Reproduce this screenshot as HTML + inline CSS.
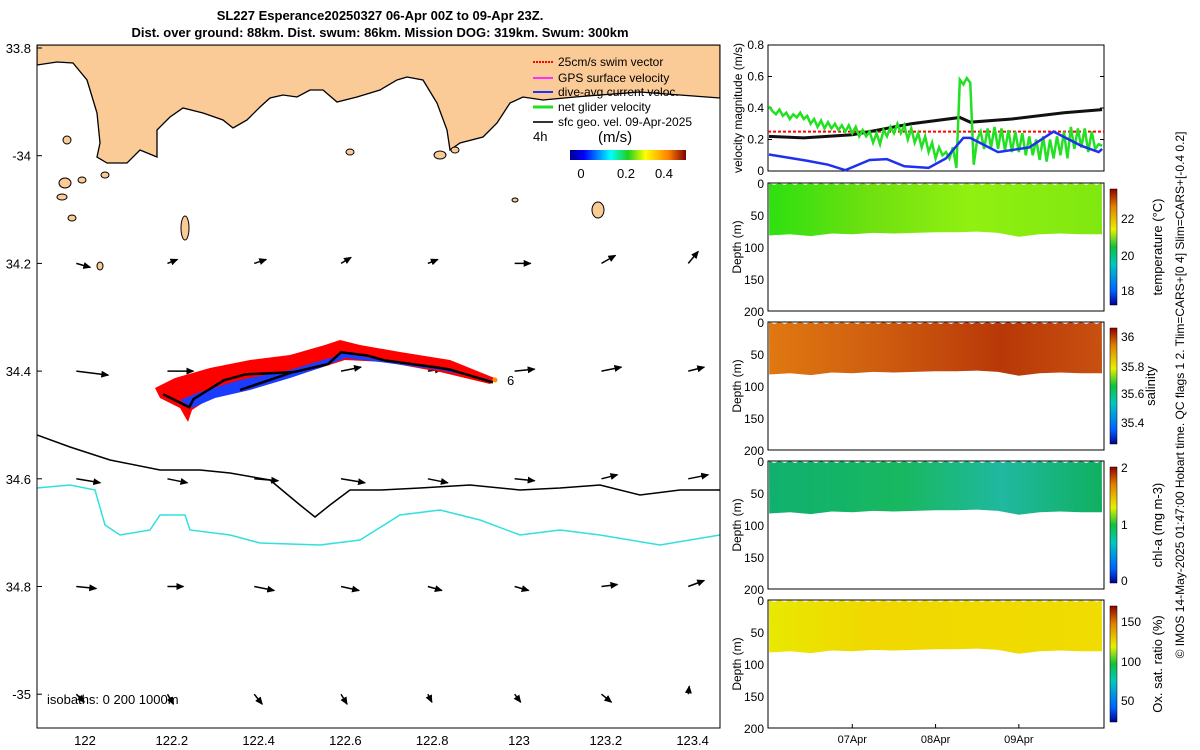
<!DOCTYPE html>
<html><head><meta charset="utf-8"><style>
body{margin:0;background:#fff}
svg{display:block;font-family:"Liberation Sans",sans-serif}
</style></head><body>
<svg id="fig" width="1200" height="750" viewBox="0 0 1200 750">
<defs>
<linearGradient id="jet" x1="0" x2="1" y1="0" y2="0">
<stop offset="0" stop-color="#00008f"/><stop offset="0.12" stop-color="#0000ff"/><stop offset="0.35" stop-color="#00ffff"/><stop offset="0.5" stop-color="#20d020"/><stop offset="0.65" stop-color="#ffff00"/><stop offset="0.85" stop-color="#ff8000"/><stop offset="1" stop-color="#800000"/></linearGradient>
<linearGradient id="jetv" x1="0" x2="0" y1="1" y2="0">
<stop offset="0" stop-color="#00008f"/><stop offset="0.12" stop-color="#0060ff"/><stop offset="0.35" stop-color="#00c8c0"/><stop offset="0.5" stop-color="#10c040"/><stop offset="0.65" stop-color="#e8f000"/><stop offset="0.85" stop-color="#e08000"/><stop offset="1" stop-color="#900000"/></linearGradient>
<linearGradient id="gT" x1="0" x2="1"><stop offset="0" stop-color="#2ee010"/><stop offset="0.3" stop-color="#6fe010"/><stop offset="0.6" stop-color="#90f010"/><stop offset="1" stop-color="#80e810"/></linearGradient>
<linearGradient id="gS" x1="0" x2="1"><stop offset="0" stop-color="#e07810"/><stop offset="0.3" stop-color="#d06010"/><stop offset="0.7" stop-color="#b83808"/><stop offset="1" stop-color="#c85010"/></linearGradient>
<linearGradient id="gC" x1="0" x2="1"><stop offset="0" stop-color="#10b070"/><stop offset="0.4" stop-color="#18b860"/><stop offset="0.7" stop-color="#20b8a0"/><stop offset="1" stop-color="#10b060"/></linearGradient>
<linearGradient id="gO" x1="0" x2="1"><stop offset="0" stop-color="#e8e800"/><stop offset="0.3" stop-color="#f0d800"/><stop offset="1" stop-color="#f0dc00"/></linearGradient>
<marker id="ah" markerUnits="userSpaceOnUse" markerWidth="8" markerHeight="7" refX="7" refY="3.5" orient="auto"><path d="M0,0 L8,3.5 L0,7 z" fill="#000"/></marker>
</defs>

<text x="380" y="20" font-size="13" font-weight="bold" text-anchor="middle">SL227 Esperance20250327 06-Apr 00Z to 09-Apr 23Z.</text>
<text x="380" y="37" font-size="13" font-weight="bold" text-anchor="middle">Dist. over ground: 88km. Dist. swum: 86km. Mission DOG: 319km. Swum: 300km</text>

<g id="map">
<clipPath id="mc"><rect x="37" y="45" width="683" height="683"/></clipPath>
<g clip-path="url(#mc)">
<path fill="#fbcb97" stroke="#000" stroke-width="1.3" d="M37,45 L37,65 L57,62 L73,63 L87,80 L97,113 L100,143 L97,157 L107,163 L127,163 L140,150 L157,157 L157,130 L170,117 L183,108 L203,113 L223,120 L233,128 L247,120 L260,107 L270,98 L283,95 L297,97 L310,90 L323,90 L337,102 L357,97 L380,90 L397,80 L407,77 L423,80 L437,103 L447,130 L450,150 L460,143 L483,137 L497,123 L510,103 L523,97 L543,100 L575,97 L600,95 L640,92 L680,95 L720,98 L720,45 Z"/>
<g fill="#fbcb97" stroke="#000" stroke-width="1">
<ellipse cx="185" cy="228" rx="4" ry="12"/><ellipse cx="65" cy="183" rx="6" ry="5"/><ellipse cx="62" cy="197" rx="5" ry="3"/><ellipse cx="67" cy="140" rx="4" ry="4"/><ellipse cx="350" cy="152" rx="4" ry="3"/><ellipse cx="440" cy="155" rx="6" ry="4"/><ellipse cx="455" cy="150" rx="4" ry="3"/><ellipse cx="598" cy="210" rx="6" ry="8"/><ellipse cx="515" cy="200" rx="3" ry="2"/><ellipse cx="100" cy="266" rx="3" ry="4"/><ellipse cx="105" cy="175" rx="4" ry="3"/><ellipse cx="82" cy="180" rx="4" ry="3"/><ellipse cx="72" cy="218" rx="4" ry="3"/>
</g>
<path fill="none" stroke="#000" stroke-width="1.5" d="M37,435 L70,447 L110,460 L160,470 L200,470 L230,473 L270,480 L300,505 L315,517 L330,505 L350,490 L380,490 L420,488 L470,485 L520,490 L560,488 L600,485 L640,495 L680,490 L720,490"/>
<path fill="none" stroke="#30e0e0" stroke-width="1.5" d="M37,488 L70,485 L95,490 L105,525 L120,535 L150,530 L160,515 L185,515 L190,530 L230,535 L260,543 L320,545 L360,540 L400,515 L440,510 L480,520 L520,535 L560,530 L600,535 L660,545 L720,535"/>
<g id="quiver"></g>
<path fill="#ff0000" d="M155,388 L175,378 L210,368 L250,360 L290,355 L325,345 L340,340 L360,345 L400,352 L450,360 L497,379 L490,384 L440,372 L385,362 L345,360 L320,368 L290,376 L250,388 L215,395 L192,410 L188,422 L180,408 L160,398 Z"/>
<path fill="#1a3cff" d="M180,400 L200,392 L240,380 L290,370 L330,358 L345,353 L380,360 L440,367 L495,381 L440,370 L380,362 L345,358 L320,368 L290,378 L250,390 L215,398 L192,408 Z"/>
<polyline id="track" fill="none" stroke="#000" stroke-width="2.5" points=""/>
<polyline fill="none" stroke="#000" stroke-width="2.5" points="240,390 293,372"/>
<circle cx="495" cy="380" r="2.5" fill="#ff9000"/>
<text x="507" y="385" font-size="13">6</text>
<text x="47" y="704" font-size="13">isobaths: 0   200  1000m</text>
</g>
<rect x="37" y="45" width="683" height="683" fill="none" stroke="#000"/>
<g id="mapticks" font-size="13"></g>
<g font-size="12">
<line x1="533" y1="62" x2="553" y2="62" stroke="#ff0000" stroke-width="2" stroke-dasharray="2,1"/><text x="558" y="66">25cm/s swim vector</text>
<line x1="533" y1="78" x2="553" y2="78" stroke="#ff30ff" stroke-width="2"/><text x="558" y="82">GPS surface velocity</text>
<line x1="533" y1="92" x2="553" y2="92" stroke="#2030ff" stroke-width="2"/><text x="558" y="96">dive-avg current veloc.</text>
<line x1="533" y1="107" x2="553" y2="107" stroke="#20e020" stroke-width="3"/><text x="558" y="111">net glider velocity</text>
<line x1="533" y1="122" x2="553" y2="122" stroke="#333" stroke-width="2"/><text x="558" y="126">sfc geo. vel. 09-Apr-2025</text>
<text x="533" y="141" font-size="13">4h</text>
<text x="598" y="142" font-size="15">(m/s)</text>
<rect x="570" y="150" width="116" height="10" fill="url(#jet)"/>
<text x="581" y="178" font-size="13" text-anchor="middle">0</text><text x="626" y="178" font-size="13" text-anchor="middle">0.2</text><text x="664" y="178" font-size="13" text-anchor="middle">0.4</text>
</g>
</g>

<g id="vel">
<rect x="768" y="45" width="336" height="126" fill="#fff" stroke="#000"/>
<g id="velticks" font-size="12"></g>
<text transform="translate(742,108) rotate(-90)" font-size="12" text-anchor="middle">velocity magnitude (m/s)</text>
<line id="swimline" stroke="#ff0000" stroke-width="2" stroke-dasharray="3,2"/>
<polyline id="blackline" fill="none" stroke="#111" stroke-width="3"/>
<polyline id="greenline" fill="none" stroke="#22e022" stroke-width="2.5"/>
<polyline id="blueline" fill="none" stroke="#2030f0" stroke-width="2.5"/>
</g>
<g id="profiles"></g>
<text transform="translate(1184,395) rotate(-90)" font-size="12" text-anchor="middle">© IMOS 14-May-2025 01:47:00 Hobart time. QC flags 1  2. Tlim=CARS+[0 4] Slim=CARS+[-0.4 0.2]</text>
</svg>
<script>
const NS='http://www.w3.org/2000/svg';
const svg=document.getElementById('fig');
function mk(tag,attrs,parent){const e=document.createElementNS(NS,tag);for(const k in attrs)e.setAttribute(k,attrs[k]);(parent||svg).appendChild(e);return e;}

// map data
const lonTicks=[122,122.2,122.4,122.6,122.8,123,123.2,123.4];
const latTicks=[33.8,34,34.2,34.4,34.6,34.8,35];
const latLabels=['33.8','-34','34.2','34.4','34.6','34.8','-35'];
const trackLon=[122.18,122.24,122.25,122.32,122.37,122.48,122.56,122.59,122.65,122.69,122.81,122.84,122.94];
const trackLat=[34.443,34.467,34.452,34.417,34.406,34.402,34.387,34.365,34.371,34.380,34.393,34.397,34.421];
const quivLon=[121.98,122.19,122.39,122.59,122.79,122.99,123.19,123.39];
const quivLat=[34.2,34.4,34.6,34.8,35.0];
const quivU=[[0.07,0.05,0.06,0.05,0.05,0.08,0.07,0.05],[0.16,0.13,0.09,0.1,0.07,0.1,0.1,0.08],[0.12,0.1,0.12,0.12,0.1,0.1,0.08,0.1],[0.1,0.08,0.1,0.09,0.07,0.07,0.08,0.08],[0.04,0.03,0.04,0.03,0.02,0.03,0.05,0.005]];
const quivV=[[-0.02,0.02,0.02,0.03,0.02,0.0,0.04,0.06],[-0.02,0.0,0.02,0.02,0.01,0.01,0.02,0.02],[-0.02,-0.02,-0.01,-0.02,-0.02,-0.01,0.02,0.02],[-0.01,0.0,-0.02,-0.02,-0.02,-0.02,0.01,0.03],[-0.04,-0.05,-0.05,-0.05,-0.04,-0.04,-0.04,0.04]];
const lx=v=>85+(v-122)*434, ly=v=>48+(v-33.8)*538.5;

const mt=document.getElementById('mapticks');
lonTicks.forEach(v=>{const t=mk('text',{x:lx(v),y:745,'text-anchor':'middle'},mt);t.textContent=String(v);

});
latTicks.forEach((v,i)=>{const t=mk('text',{x:31,y:ly(v)+5,'text-anchor':'end'},mt);t.textContent=latLabels[i];


mk('line',{x1:37,x2:42,y1:ly(v),y2:ly(v),stroke:'#000'},mt);});
document.getElementById('track').setAttribute('points',trackLon.map((v,i)=>lx(v)+','+ly(trackLat[i])).join(' '));
const q=document.getElementById('quiver');
quivLat.forEach((la,i)=>quivLon.forEach((lo,j)=>{const x=lx(lo),y=ly(la);const l=mk('line',{x1:x,y1:y,x2:x+quivU[i][j]*200,y2:y-quivV[i][j]*200,stroke:'#000','stroke-width':1.5,'marker-end':'url(#ah)'},q);

}));

// velocity chart
const hours=[];for(let h=0;h<=96;h++)hours.push(h);
const greenVals=[0.41,0.38,0.36,0.39,0.35,0.37,0.33,0.36,0.34,0.37,0.33,0.35,0.30,0.33,0.28,0.32,0.27,0.31,0.27,0.30,0.26,0.29,0.25,0.29,0.24,0.28,0.22,0.26,0.22,0.25,0.18,0.24,0.17,0.26,0.22,0.28,0.24,0.30,0.24,0.29,0.20,0.27,0.18,0.24,0.15,0.22,0.12,0.18,0.08,0.15,0.10,0.12,0.08,0.15,0.02,0.58,0.55,0.59,0.56,0.04,0.20,0.25,0.14,0.27,0.15,0.28,0.14,0.27,0.13,0.26,0.12,0.25,0.12,0.24,0.10,0.22,0.10,0.20,0.07,0.22,0.06,0.20,0.08,0.22,0.10,0.25,0.08,0.28,0.14,0.27,0.15,0.27,0.12,0.25,0.14,0.17,0.16];
const blueHours=[0,11,17,22,29,34,39,46,51,56,58,66,75,82,90,95,96];
const blueVals=[0.105,0.065,0.04,0.005,0.07,0.075,0.03,0.02,0.08,0.21,0.21,0.12,0.15,0.25,0.16,0.12,0.14];
const blackHours=[0,10,24,29,41,55,58,70,85,96];
const blackVals=[0.22,0.21,0.23,0.25,0.30,0.34,0.31,0.33,0.37,0.39];
const swimSpeed=0.25;
const velTicks=[0,0.2,0.4,0.6,0.8];
const dayTicks=[24,48,72];const dayLabels=['07Apr','08Apr','09Apr'];
const vx=h=>769+h*3.47, vy=v=>171-v*157.5;
const vt=document.getElementById('velticks');
velTicks.forEach(v=>{const t=mk('text',{x:764,y:vy(v)+4,'text-anchor':'end'},vt);t.textContent=String(v);


mk('line',{x1:768,x2:772,y1:vy(v),y2:vy(v),stroke:'#000'},vt);mk('line',{x1:1100,x2:1104,y1:vy(v),y2:vy(v),stroke:'#000'},vt);});
const sl=document.getElementById('swimline');sl.setAttribute('x1',768);sl.setAttribute('x2',1104);sl.setAttribute('y1',vy(swimSpeed));sl.setAttribute('y2',vy(swimSpeed));
document.getElementById('greenline').setAttribute('points',hours.map((h,i)=>vx(h)+','+vy(greenVals[i])).join(' '));
document.getElementById('blueline').setAttribute('points',blueHours.map((h,i)=>vx(h)+','+vy(blueVals[i])).join(' '));
document.getElementById('blackline').setAttribute('points',blackHours.map((h,i)=>vx(h)+','+vy(blackVals[i])).join(' '));

// profile panels
const panelTop=[183,322,461,600];
const panelFill=['url(#gT)','url(#gS)','url(#gC)','url(#gO)'];
const panelNames=['temperature-panel','salinity-panel','chlorophyll-panel','oxygen-panel'];
const cbLabels=['temperature (°C)','salinity','chl-a (mg m-3)','Ox. sat. ratio (%)'];
const cbTickVals=[[22,20,18],[36,35.8,35.6,35.4],[2,1,0],[150,100,50]];
const cbTickY=[[218,255,290],[336,366,393,422],[467,524,580],[621,661,700]];
const depthTicks=[0,50,100,150,200];
const bottomDepth=[82,80,83,79,80,78,79,78,77,77,76,78,84,80,79,80,80];
const pg=document.getElementById('profiles');
panelTop.forEach((top,p)=>{
 const g=mk('g',{},pg);
 
 
 const dy=d=>top+d*0.64;
 let d='M769,'+dy(0);
 for(let i=0;i<=64;i++){d+=' L'+(769+i*5.2)+','+(dy(0)+(i%2?2:0));}
 bottomDepth.slice().reverse().forEach((b,i)=>{d+=' L'+(1102-i*20.8)+','+dy(b);});
 d+=' Z';
 mk('path',{d:d,fill:panelFill[p]},g);
 mk('rect',{x:768,y:top,width:336,height:128,fill:'none',stroke:'#000'},g);
 depthTicks.forEach(v=>{const t=mk('text',{x:764,y:dy(v)+5,'text-anchor':'end','font-size':12},g);t.textContent=String(v);
 
 });
 const yt=mk('text',{transform:'translate(741,'+(top+64)+') rotate(-90)','text-anchor':'middle','font-size':12},g);yt.textContent='Depth (m)';
 
 
 const cb=mk('rect',{x:1110,y:top+6,width:7,height:116,fill:'url(#jetv)',stroke:'#000','stroke-width':0.5},g);
 
 
 cbTickVals[p].forEach((v,i)=>{const t=mk('text',{x:1121,y:cbTickY[p][i]+5,'font-size':12},g);t.textContent=String(v);
 
 });
 const ct=mk('text',{transform:'translate('+(p==1?1155:1162)+','+(top+64)+') rotate(-90)','text-anchor':'middle','font-size':13},g);ct.textContent=cbLabels[p];
 
 
});
dayTicks.forEach((h,i)=>{const t=mk('text',{x:vx(h),y:743,'text-anchor':'middle','font-size':11});t.textContent=dayLabels[i];


mk('line',{x1:vx(h),x2:vx(h),y1:728,y2:724,stroke:'#000'});});
</script>
</body></html>
